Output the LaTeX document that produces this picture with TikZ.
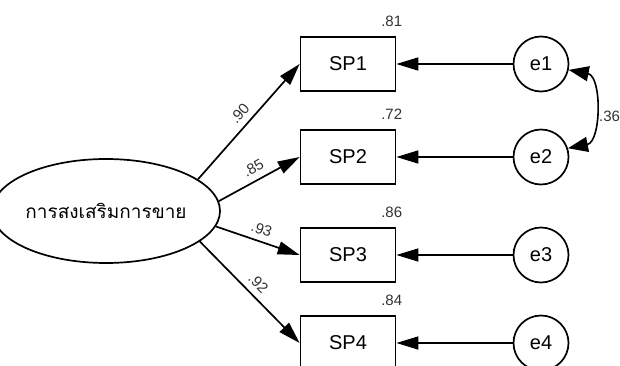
\documentclass[tikz,border=0pt]{standalone}
\usepackage{fontspec}
\setmainfont{Liberation Sans}
\newfontfamily\thaifont[Script=Thai]{Loma}
\usetikzlibrary{arrows.meta,shapes.geometric}
\begin{document}
\begin{tikzpicture}[x=1pt,y=1pt,
  latbox/.style={ellipse, draw, line width=1.7pt, minimum width=190pt, minimum height=104pt, inner sep=0pt, font=\thaifont\fontsize{19}{22}\selectfont},
  obs/.style={rectangle, draw, line width=1.7pt, minimum width=95pt, minimum height=54pt, inner sep=0pt, font=\fontsize{20}{24}\selectfont},
  err/.style={circle, draw, line width=1.7pt, minimum size=55pt, inner sep=0pt, font=\fontsize{20}{24}\selectfont},
  reg/.style={line width=1.7pt, -{Triangle[length=22pt,width=13pt]}},
  coef/.style={font=\fontsize{15}{17}\selectfont, sloped, above=6pt, pos=0.5, inner sep=0pt, text=black!80},
  rsq/.style={font=\fontsize{15}{17}\selectfont, anchor=south east, inner sep=0pt, text=black!80},
]
\useasboundingbox (0,0) rectangle (620,365);
\fill[white] (0,0) rectangle (620,365);
\clip (0,0) rectangle (620,365);

\node[latbox] (lat) at (106,154) {การสงเสริมการขาย};

\node[obs] (sp1) at (348,301) {SP1};
\node[obs] (sp2) at (348,208) {SP2};
\node[obs] (sp3) at (348,110) {SP3};
\node[obs] (sp4) at (348,22) {SP4};

\node[err] (e1) at (541,301) {e1};
\node[err] (e2) at (541,208) {e2};
\node[err] (e3) at (541,110) {e3};
\node[err] (e4) at (541,22) {e4};

\node[rsq] (r1) at ([shift={(6,9)}]sp1.north east) {.81};
\node[rsq] (r2) at ([shift={(6,9)}]sp2.north east) {.72};
\node[rsq] (r3) at ([shift={(6,9)}]sp3.north east) {.86};
\node[rsq] (r4) at ([shift={(6,9)}]sp4.north east) {.84};

\draw[reg] (lat.19) -- node[coef] {.90} (sp1.west);
\draw[reg] (lat.5.5) -- node[coef] {.85} (sp2.west);
\draw[reg] (lat.-8) -- node[coef] {.93} (sp3.west);
\draw[reg] (lat.-18) -- node[coef] {.92} (sp4.west);

\draw[reg] (e1) -- (sp1);
\draw[reg] (e2) -- (sp2);
\draw[reg] (e3) -- (sp3);
\draw[reg] (e4) -- (sp4);

\draw[line width=1.6pt, {Triangle[length=20pt,width=15pt]}-{Triangle[length=20pt,width=15pt]}]
  (e1.-12) .. controls +(-11:34) and +(11:34) .. (e2.18);
\node[font=\fontsize{15}{17}\selectfont, anchor=west, inner sep=0pt, text=black!80] (cv) at (599,249) {.36};
\end{tikzpicture}
\end{document}
